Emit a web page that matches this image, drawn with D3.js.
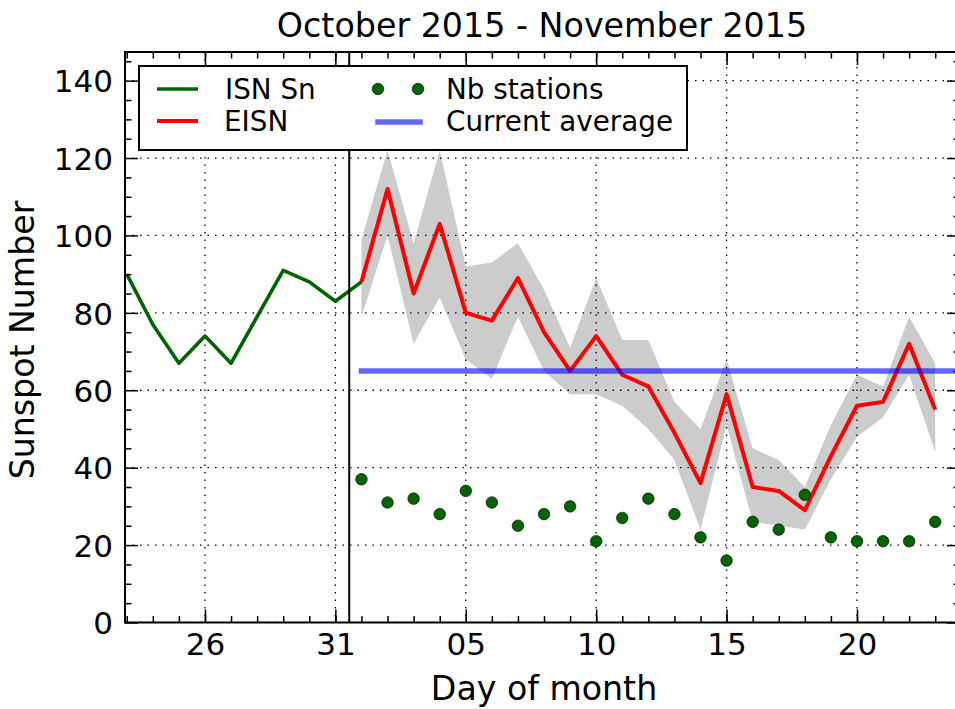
<!DOCTYPE html>
<html><head><meta charset="utf-8">
<script src="https://cdn.jsdelivr.net/npm/d3@7"></script>
<style>
body{margin:0;background:#fff}
text{font-family:"DejaVu Sans",sans-serif;fill:#000}
</style>
</head><body>
<svg id="chart" width="955" height="709"></svg>
<script>
// ---- data ----
const isnDates = ["2015-10-23","2015-10-24","2015-10-25","2015-10-26","2015-10-27","2015-10-28","2015-10-29","2015-10-30","2015-10-31","2015-11-01"];
const isnValues = [90, 77, 67, 74, 67, 79, 91, 88, 83, 88];

const eisnDates = ["2015-11-01","2015-11-02","2015-11-03","2015-11-04","2015-11-05","2015-11-06","2015-11-07","2015-11-08","2015-11-09","2015-11-10","2015-11-11","2015-11-12","2015-11-13","2015-11-14","2015-11-15","2015-11-16","2015-11-17","2015-11-18","2015-11-19","2015-11-20","2015-11-21","2015-11-22","2015-11-23"];
const eisnValues = [88, 112, 85, 103, 80, 78, 89, 75, 65, 74, 64, 61, 49, 36, 59, 35, 34, 29, 43, 56, 57, 72, 55];
const eisnUpper  = [99, 122, 98, 122, 92, 93, 98, 86, 71, 89, 73, 73, 57, 50, 68, 45, 42, 35, 51, 64, 61, 79, 67];
const eisnLower  = [79, 100, 72, 84, 68, 63, 79, 65, 59, 59, 56, 50, 42, 24, 51, 26, 25, 24, 37, 48, 53, 64, 44];
const nbStations = [37, 31, 32, 28, 34, 31, 25, 28, 30, 21, 27, 32, 28, 22, 16, 26, 24, 33, 22, 21, 21, 21, 26];

const currentAverage = 65;
const averageStart = "2015-11-01";
const averageEnd = "2015-11-25";
const separatorTime = "2015-10-31T12:45";

const xLimits = ["2015-10-22T22:24", "2015-11-23T22:48"];
const yLimits = [0, 147.4];
const xMajorTicks = ["2015-10-26","2015-10-31","2015-11-05","2015-11-10","2015-11-15","2015-11-20"];
const yMajorTicks = [0, 20, 40, 60, 80, 100, 120, 140];
const yMinorTicks = [5,10,15,25,30,35,45,50,55,65,70,75,85,90,95,105,110,115,125,130,135,145];

const title = "October 2015 - November 2015";
const xLabel = "Day of month";
const yLabel = "Sunspot Number";
const legendItems = ["ISN Sn", "EISN", "Nb stations", "Current average"];

// ---- layout ----
const L = 125, R = 960, T = 52, B = 622.5;
const pD = d3.utcParse("%Y-%m-%d");
const pT = d3.utcParse("%Y-%m-%dT%H:%M");

const x = d3.scaleUtc().domain(xLimits.map(pT)).range([L, R]);
const y = d3.scaleLinear().domain(yLimits).range([B, T]);

const svg = d3.select("#chart");
svg.append("defs").append("clipPath").attr("id","clip")
  .append("rect").attr("x",L).attr("y",T).attr("width",R-L).attr("height",B-T);

const plot = svg.append("g").attr("clip-path","url(#clip)");

const eisn = eisnDates.map((d,i)=>({t:pD(d), v:eisnValues[i], lo:eisnLower[i], hi:eisnUpper[i], n:nbStations[i]}));
const isn = isnDates.map((d,i)=>({t:pD(d), v:isnValues[i]}));

// band
plot.append("path").datum(eisn)
  .attr("fill","#cccccc")
  .attr("d", d3.area().x(d=>x(d.t)).y0(d=>y(d.lo)).y1(d=>y(d.hi)));

// grid
const grid = plot.append("g").attr("stroke","#000").attr("stroke-width",1.3).attr("stroke-dasharray","1.5,6");
grid.selectAll("line.gx").data(xMajorTicks.map(pD)).join("line")
  .attr("x1",d=>x(d)).attr("x2",d=>x(d)).attr("y1",T).attr("y2",B);
grid.selectAll("line.gy").data(yMajorTicks).join("line")
  .attr("x1",L).attr("x2",R).attr("y1",d=>y(d)).attr("y2",d=>y(d));

// lines
const line = d3.line().x(d=>x(d.t)).y(d=>y(d.v));
plot.append("path").datum(isn).attr("fill","none").attr("stroke","#006400")
  .attr("stroke-width",3.6).attr("stroke-linejoin","round").attr("d",line);
plot.append("path").datum(eisn).attr("fill","none").attr("stroke","#ff0000")
  .attr("stroke-width",4).attr("stroke-linejoin","round").attr("d",line);

// average
plot.append("line")
  .attr("x1",x(pD(averageStart))).attr("x2",x(pD(averageEnd)))
  .attr("y1",y(currentAverage)).attr("y2",y(currentAverage))
  .attr("stroke","#0000ff").attr("stroke-opacity",0.6).attr("stroke-width",5.5).attr("stroke-linecap","square");

// dots
plot.selectAll("circle.nb").data(eisn).join("circle")
  .attr("cx",d=>x(d.t)).attr("cy",d=>y(d.n)).attr("r",5.8)
  .attr("fill","#006400").attr("stroke","#000").attr("stroke-width",0.6);

// separator
plot.append("line").attr("x1",x(pT(separatorTime))).attr("x2",x(pT(separatorTime)))
  .attr("y1",T).attr("y2",B).attr("stroke","#000").attr("stroke-width",2);

// axes
const fmt = d3.utcFormat("%d");
const xMinor = d3.utcDay.range(x.domain()[0], x.domain()[1]);
function styleAxis(g){ g.select(".domain").remove(); g.selectAll(".tick line").attr("stroke","#000").attr("stroke-width",1.5); }

svg.append("g").attr("transform",`translate(0,${B})`)
  .call(d3.axisBottom(x).tickValues(xMinor).tickSize(-6.5).tickFormat(""))
  .call(styleAxis);
svg.append("g").attr("transform",`translate(0,${T})`)
  .call(d3.axisTop(x).tickValues(xMinor).tickSize(-6.5).tickFormat(""))
  .call(styleAxis);
const xb = svg.append("g").attr("transform",`translate(0,${B})`)
  .call(d3.axisBottom(x).tickValues(xMajorTicks.map(pD)).tickSize(-13).tickFormat(fmt))
  .call(styleAxis);
xb.selectAll("text").attr("y",32.5).attr("dy",0).attr("font-size",31).attr("font-family","DejaVu Sans");
svg.append("g").attr("transform",`translate(0,${T})`)
  .call(d3.axisTop(x).tickValues(xMajorTicks.map(pD)).tickSize(-13).tickFormat(""))
  .call(styleAxis);

const yl = svg.append("g").attr("transform",`translate(${L},0)`)
  .call(d3.axisLeft(y).tickValues(yMajorTicks).tickSize(-13).tickPadding(12))
  .call(styleAxis);
yl.selectAll("text").attr("x",-12).attr("dy","0.36em").attr("font-size",31).attr("font-family","DejaVu Sans");
svg.append("g").attr("transform",`translate(${L},0)`)
  .call(d3.axisLeft(y).tickValues(yMinorTicks).tickSize(-6.5).tickFormat(""))
  .call(styleAxis);
svg.append("g").attr("transform",`translate(${R},0)`)
  .call(d3.axisRight(y).tickValues(yMajorTicks).tickSize(-13).tickFormat(""))
  .call(styleAxis);
svg.append("g").attr("transform",`translate(${R},0)`)
  .call(d3.axisRight(y).tickValues(yMinorTicks).tickSize(-6.5).tickFormat(""))
  .call(styleAxis);

// frame
svg.append("rect").attr("x",L).attr("y",T).attr("width",R-L).attr("height",B-T)
  .attr("fill","none").attr("stroke","#000").attr("stroke-width",2);

// labels
svg.append("text").attr("x",542).attr("y",36.5).attr("text-anchor","middle")
  .attr("font-size",33.3).text(title);
svg.append("text").attr("x",544).attr("y",700).attr("text-anchor","middle")
  .attr("font-size",33.2).text(xLabel);
svg.append("text").attr("transform","translate(34,340) rotate(-90)").attr("text-anchor","middle")
  .attr("font-size",33.2).text(yLabel);

// legend
const lg = svg.append("g");
lg.append("rect").attr("x",139).attr("y",66).attr("width",548).attr("height",84)
  .attr("fill","#fff").attr("stroke","#000").attr("stroke-width",2);
lg.append("line").attr("x1",157).attr("x2",198).attr("y1",89).attr("y2",89)
  .attr("stroke","#006400").attr("stroke-width",3.6);
lg.append("line").attr("x1",157).attr("x2",198).attr("y1",121).attr("y2",121)
  .attr("stroke","#ff0000").attr("stroke-width",4);
lg.selectAll("circle").data([378,418]).join("circle")
  .attr("cx",d=>d).attr("cy",89).attr("r",5.8).attr("fill","#006400").attr("stroke","#000").attr("stroke-width",0.6);
lg.append("line").attr("x1",378).attr("x2",420).attr("y1",122).attr("y2",122)
  .attr("stroke","#0000ff").attr("stroke-opacity",0.6).attr("stroke-width",5.5).attr("stroke-linecap","square");
const lt = [[225,99,legendItems[0]],[224,131,legendItems[1]],[446,99,legendItems[2]],[446,131,legendItems[3]]];
lg.selectAll("text").data(lt).join("text").attr("x",d=>d[0]).attr("y",d=>d[1])
  .attr("font-size",27.8).text(d=>d[2]);
</script>
</body></html>
